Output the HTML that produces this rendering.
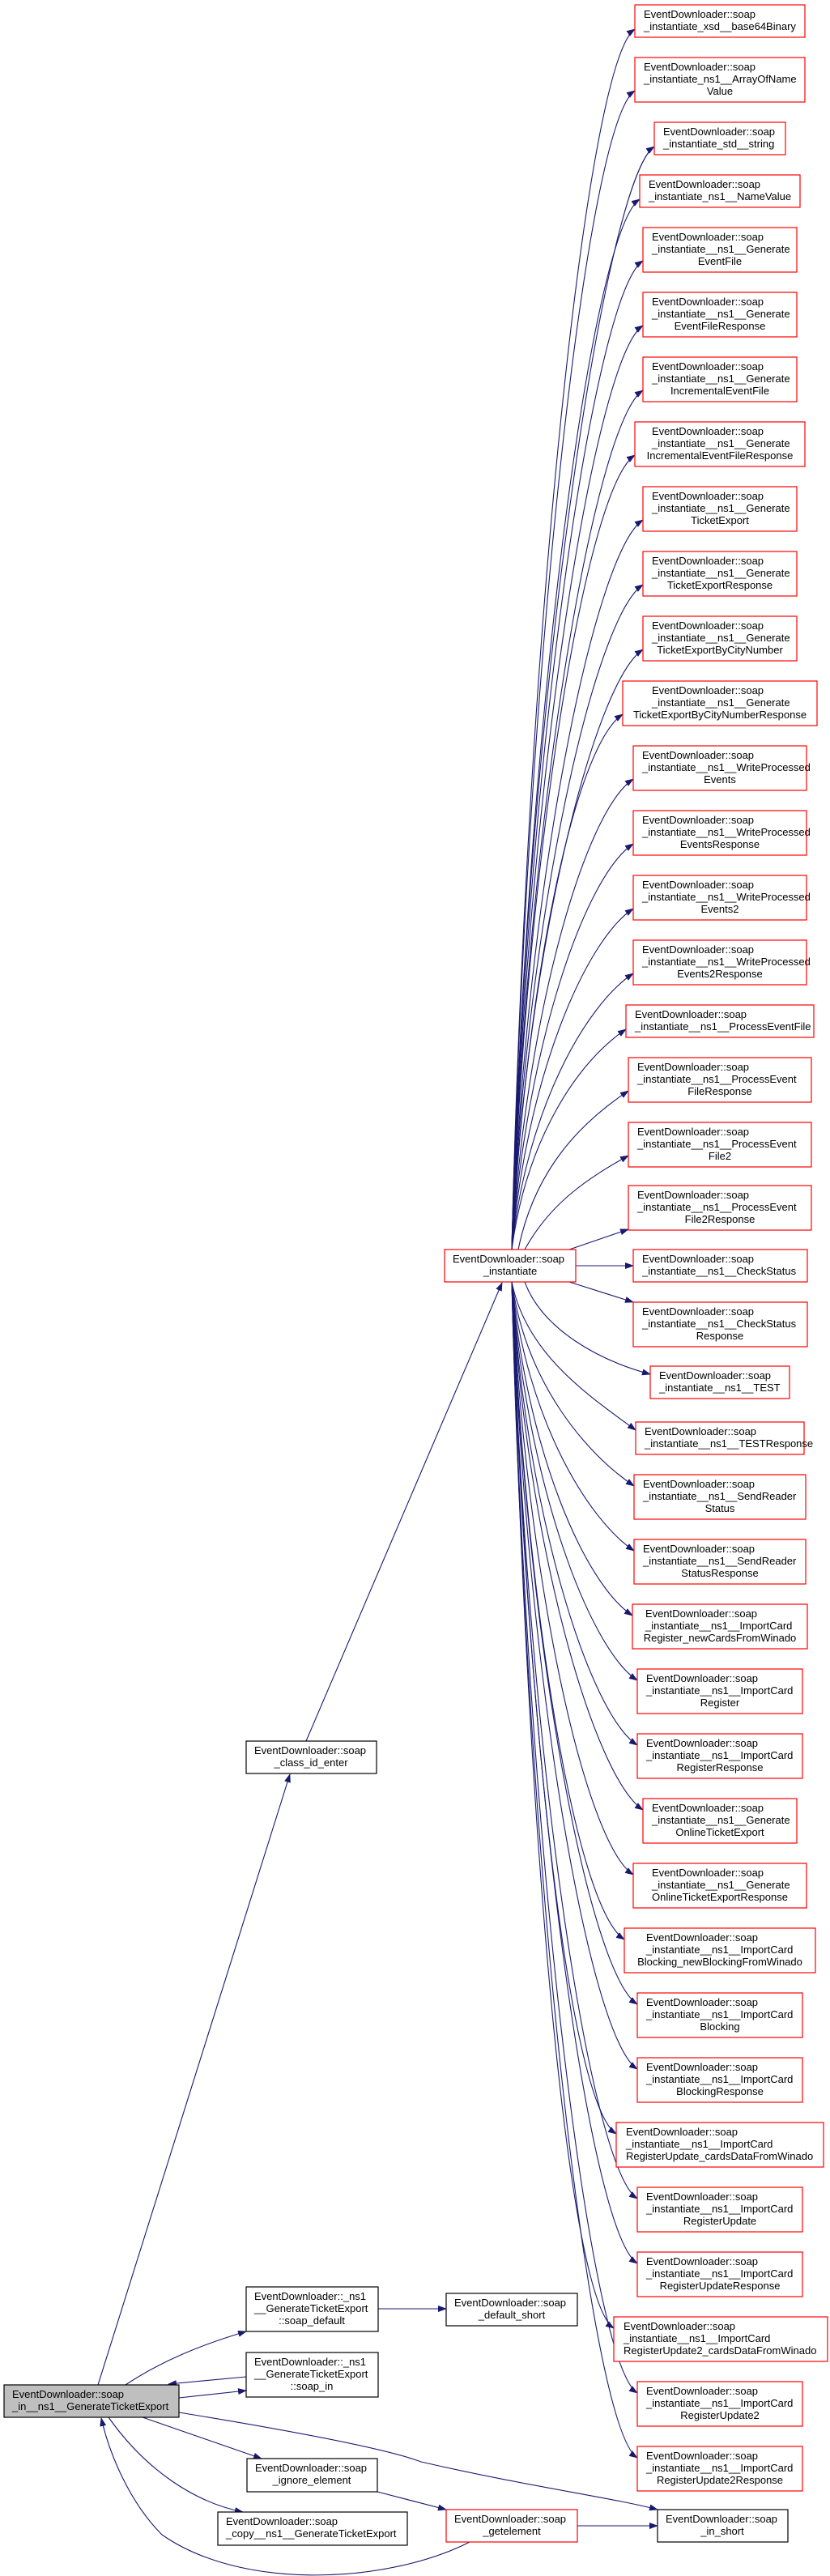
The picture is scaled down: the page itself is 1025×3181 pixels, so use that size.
<!DOCTYPE html>
<html><head><meta charset="utf-8"><style>
html,body{margin:0;padding:0;background:#fff;}
svg{display:block;}
text{font-family:"Liberation Sans",sans-serif;font-size:13px;fill:#000;}
.r{fill:#fff;stroke:#f00;stroke-width:1.2;}
.b{fill:#fff;stroke:#000;stroke-width:1.2;}
.g{fill:#bfbfbf;stroke:#000;stroke-width:1.2;}
.e{fill:none;stroke:#191970;stroke-width:1.1;}
</style></head><body>
<svg width="1025" height="3181" viewBox="0 0 1025 3181" xmlns="http://www.w3.org/2000/svg">
<defs><marker id="a" markerWidth="11" markerHeight="8" refX="10" refY="4" orient="auto" markerUnits="userSpaceOnUse"><path d="M0,0 L11,4 L0,8 z" fill="#191970"/></marker></defs>
<g class="e" marker-end="url(#a)">
<path d="M632,1543 C650,790 724,76 784,36"/>
<path d="M632,1543 C650,827 724,152 784,112"/>
<path d="M632,1543 C650,862 748,221 808,181"/>
<path d="M632,1543 C650,894 730,286 790,246"/>
<path d="M632,1543 C650,932 734,362 794,322"/>
<path d="M632,1543 C650,972 734,442 794,402"/>
<path d="M632,1543 C650,1012 734,522 794,482"/>
<path d="M632,1543 C650,1052 724,602 784,562"/>
<path d="M632,1543 C650,1092 734,682 794,642"/>
<path d="M632,1543 C650,1132 734,762 794,722"/>
<path d="M632,1543 C650,1172 734,842 794,802"/>
<path d="M632,1543 C650,1212 709,922 769,882"/>
<path d="M632,1543 C650,1252 722,1002 782,962"/>
<path d="M632,1543 C650,1292 722,1082 782,1042"/>
<path d="M632,1543 C650,1332 722,1162 782,1122"/>
<path d="M632,1543 C650,1372 722,1242 782,1202"/>
<path d="M632,1543 C650,1407 713,1311 773,1271"/>
<path d="M640,1543 C660,1445 716,1387 776,1347"/>
<path d="M648,1543 C680,1485 726,1455 776,1427"/>
<path d="M703,1543 L776,1518"/>
<path d="M711,1563 L782,1563"/>
<path d="M703,1583 L782,1608"/>
<path d="M648,1583 C670,1642 740,1680 803,1697"/>
<path d="M632,1583 C650,1674 731,1726 785,1766"/>
<path d="M632,1583 C650,1709 724,1795 783,1835"/>
<path d="M632,1583 C650,1749 724,1875 783,1915"/>
<path d="M632,1583 C650,1789 721,1955 781,1995"/>
<path d="M632,1583 C650,1829 727,2035 787,2075"/>
<path d="M632,1583 C650,1869 727,2115 787,2155"/>
<path d="M632,1583 C650,1909 734,2195 794,2235"/>
<path d="M632,1583 C650,1949 722,2275 782,2315"/>
<path d="M632,1583 C650,1989 711,2355 771,2395"/>
<path d="M632,1583 C650,2029 727,2435 787,2475"/>
<path d="M632,1583 C650,2069 727,2515 787,2555"/>
<path d="M632,1583 C650,2109 701,2595 761,2635"/>
<path d="M632,1583 C650,2149 727,2675 787,2715"/>
<path d="M632,1583 C650,2189 727,2755 787,2795"/>
<path d="M632,1583 C650,2229 698,2835 758,2875"/>
<path d="M632,1583 C650,2269 727,2915 787,2955"/>
<path d="M632,1583 C650,2309 727,2995 787,3035"/>
<path d="M121,2945 L358,2191"/>
<path d="M378,2150 L620,1584"/>
<path d="M155,2945 C200,2915 250,2895 304,2879"/>
<path d="M304,2935 L208,2944"/>
<path d="M221,2961 L304,2952"/>
<path d="M467,2851 L551,2851"/>
<path d="M221,2979 C380,3005 480,3025 520,3040 C650,3070 760,3085 812,3099"/>
<path d="M176,2985 L323,3036"/>
<path d="M134,2985 C180,3050 240,3090 300,3102"/>
<path d="M466,3077 L551,3099"/>
<path d="M713,3119 L812,3119"/>
<path d="M580,3139 C480,3190 300,3200 200,3130 C160,3090 135,3030 125,2986"/>
</g>
<g>
<rect class="r" x="784" y="6" width="210" height="40"/><text x="795" y="22">EventDownloader::soap</text><text x="795" y="37">_instantiate_xsd__base64Binary</text>
<rect class="r" x="784" y="71" width="210" height="55"/><text x="795" y="87">EventDownloader::soap</text><text x="795" y="102">_instantiate_ns1__ArrayOfName</text><text x="889" y="117" text-anchor="middle">Value</text>
<rect class="r" x="808" y="151" width="162" height="40"/><text x="819" y="167">EventDownloader::soap</text><text x="819" y="182">_instantiate_std__string</text>
<rect class="r" x="790" y="216" width="198" height="40"/><text x="801" y="232">EventDownloader::soap</text><text x="801" y="247">_instantiate_ns1__NameValue</text>
<rect class="r" x="794" y="281" width="190" height="55"/><text x="805" y="297">EventDownloader::soap</text><text x="805" y="312">_instantiate__ns1__Generate</text><text x="889" y="327" text-anchor="middle">EventFile</text>
<rect class="r" x="794" y="361" width="190" height="55"/><text x="805" y="377">EventDownloader::soap</text><text x="805" y="392">_instantiate__ns1__Generate</text><text x="889" y="407" text-anchor="middle">EventFileResponse</text>
<rect class="r" x="794" y="441" width="190" height="55"/><text x="805" y="457">EventDownloader::soap</text><text x="805" y="472">_instantiate__ns1__Generate</text><text x="889" y="487" text-anchor="middle">IncrementalEventFile</text>
<rect class="r" x="784" y="521" width="210" height="55"/><text x="805" y="537">EventDownloader::soap</text><text x="805" y="552">_instantiate__ns1__Generate</text><text x="889" y="567" text-anchor="middle">IncrementalEventFileResponse</text>
<rect class="r" x="794" y="601" width="190" height="55"/><text x="805" y="617">EventDownloader::soap</text><text x="805" y="632">_instantiate__ns1__Generate</text><text x="889" y="647" text-anchor="middle">TicketExport</text>
<rect class="r" x="794" y="681" width="190" height="55"/><text x="805" y="697">EventDownloader::soap</text><text x="805" y="712">_instantiate__ns1__Generate</text><text x="889" y="727" text-anchor="middle">TicketExportResponse</text>
<rect class="r" x="794" y="761" width="190" height="55"/><text x="805" y="777">EventDownloader::soap</text><text x="805" y="792">_instantiate__ns1__Generate</text><text x="889" y="807" text-anchor="middle">TicketExportByCityNumber</text>
<rect class="r" x="769" y="841" width="240" height="55"/><text x="805" y="857">EventDownloader::soap</text><text x="805" y="872">_instantiate__ns1__Generate</text><text x="889" y="887" text-anchor="middle">TicketExportByCityNumberResponse</text>
<rect class="r" x="782" y="921" width="214" height="55"/><text x="793" y="937">EventDownloader::soap</text><text x="793" y="952">_instantiate__ns1__WriteProcessed</text><text x="889" y="967" text-anchor="middle">Events</text>
<rect class="r" x="782" y="1001" width="214" height="55"/><text x="793" y="1017">EventDownloader::soap</text><text x="793" y="1032">_instantiate__ns1__WriteProcessed</text><text x="889" y="1047" text-anchor="middle">EventsResponse</text>
<rect class="r" x="782" y="1081" width="214" height="55"/><text x="793" y="1097">EventDownloader::soap</text><text x="793" y="1112">_instantiate__ns1__WriteProcessed</text><text x="889" y="1127" text-anchor="middle">Events2</text>
<rect class="r" x="782" y="1161" width="214" height="55"/><text x="793" y="1177">EventDownloader::soap</text><text x="793" y="1192">_instantiate__ns1__WriteProcessed</text><text x="889" y="1207" text-anchor="middle">Events2Response</text>
<rect class="r" x="773" y="1241" width="232" height="40"/><text x="784" y="1257">EventDownloader::soap</text><text x="784" y="1272">_instantiate__ns1__ProcessEventFile</text>
<rect class="r" x="776" y="1306" width="226" height="55"/><text x="787" y="1322">EventDownloader::soap</text><text x="787" y="1337">_instantiate__ns1__ProcessEvent</text><text x="889" y="1352" text-anchor="middle">FileResponse</text>
<rect class="r" x="776" y="1386" width="226" height="55"/><text x="787" y="1402">EventDownloader::soap</text><text x="787" y="1417">_instantiate__ns1__ProcessEvent</text><text x="889" y="1432" text-anchor="middle">File2</text>
<rect class="r" x="776" y="1464" width="226" height="55"/><text x="787" y="1480">EventDownloader::soap</text><text x="787" y="1495">_instantiate__ns1__ProcessEvent</text><text x="889" y="1510" text-anchor="middle">File2Response</text>
<rect class="r" x="782" y="1543" width="215" height="40"/><text x="793" y="1559">EventDownloader::soap</text><text x="793" y="1574">_instantiate__ns1__CheckStatus</text>
<rect class="r" x="782" y="1608" width="215" height="55"/><text x="793" y="1624">EventDownloader::soap</text><text x="793" y="1639">_instantiate__ns1__CheckStatus</text><text x="889" y="1654" text-anchor="middle">Response</text>
<rect class="r" x="803" y="1687" width="172" height="40"/><text x="814" y="1703">EventDownloader::soap</text><text x="814" y="1718">_instantiate__ns1__TEST</text>
<rect class="r" x="785" y="1756" width="208" height="40"/><text x="796" y="1772">EventDownloader::soap</text><text x="796" y="1787">_instantiate__ns1__TESTResponse</text>
<rect class="r" x="783" y="1821" width="212" height="55"/><text x="794" y="1837">EventDownloader::soap</text><text x="794" y="1852">_instantiate__ns1__SendReader</text><text x="889" y="1867" text-anchor="middle">Status</text>
<rect class="r" x="783" y="1901" width="212" height="55"/><text x="794" y="1917">EventDownloader::soap</text><text x="794" y="1932">_instantiate__ns1__SendReader</text><text x="889" y="1947" text-anchor="middle">StatusResponse</text>
<rect class="r" x="781" y="1981" width="216" height="55"/><text x="797" y="1997">EventDownloader::soap</text><text x="797" y="2012">_instantiate__ns1__ImportCard</text><text x="889" y="2027" text-anchor="middle">Register_newCardsFromWinado</text>
<rect class="r" x="787" y="2061" width="204" height="55"/><text x="798" y="2077">EventDownloader::soap</text><text x="798" y="2092">_instantiate__ns1__ImportCard</text><text x="889" y="2107" text-anchor="middle">Register</text>
<rect class="r" x="787" y="2141" width="204" height="55"/><text x="798" y="2157">EventDownloader::soap</text><text x="798" y="2172">_instantiate__ns1__ImportCard</text><text x="889" y="2187" text-anchor="middle">RegisterResponse</text>
<rect class="r" x="794" y="2221" width="190" height="55"/><text x="805" y="2237">EventDownloader::soap</text><text x="805" y="2252">_instantiate__ns1__Generate</text><text x="889" y="2267" text-anchor="middle">OnlineTicketExport</text>
<rect class="r" x="782" y="2301" width="214" height="55"/><text x="805" y="2317">EventDownloader::soap</text><text x="805" y="2332">_instantiate__ns1__Generate</text><text x="889" y="2347" text-anchor="middle">OnlineTicketExportResponse</text>
<rect class="r" x="771" y="2381" width="236" height="55"/><text x="798" y="2397">EventDownloader::soap</text><text x="798" y="2412">_instantiate__ns1__ImportCard</text><text x="889" y="2427" text-anchor="middle">Blocking_newBlockingFromWinado</text>
<rect class="r" x="787" y="2461" width="204" height="55"/><text x="798" y="2477">EventDownloader::soap</text><text x="798" y="2492">_instantiate__ns1__ImportCard</text><text x="889" y="2507" text-anchor="middle">Blocking</text>
<rect class="r" x="787" y="2541" width="204" height="55"/><text x="798" y="2557">EventDownloader::soap</text><text x="798" y="2572">_instantiate__ns1__ImportCard</text><text x="889" y="2587" text-anchor="middle">BlockingResponse</text>
<rect class="r" x="761" y="2621" width="256" height="55"/><text x="773" y="2637">EventDownloader::soap</text><text x="773" y="2652">_instantiate__ns1__ImportCard</text><text x="773" y="2667">RegisterUpdate_cardsDataFromWinado</text>
<rect class="r" x="787" y="2701" width="204" height="55"/><text x="798" y="2717">EventDownloader::soap</text><text x="798" y="2732">_instantiate__ns1__ImportCard</text><text x="889" y="2747" text-anchor="middle">RegisterUpdate</text>
<rect class="r" x="787" y="2781" width="204" height="55"/><text x="798" y="2797">EventDownloader::soap</text><text x="798" y="2812">_instantiate__ns1__ImportCard</text><text x="889" y="2827" text-anchor="middle">RegisterUpdateResponse</text>
<rect class="r" x="758" y="2861" width="264" height="55"/><text x="770" y="2877">EventDownloader::soap</text><text x="770" y="2892">_instantiate__ns1__ImportCard</text><text x="770" y="2907">RegisterUpdate2_cardsDataFromWinado</text>
<rect class="r" x="787" y="2941" width="204" height="55"/><text x="798" y="2957">EventDownloader::soap</text><text x="798" y="2972">_instantiate__ns1__ImportCard</text><text x="889" y="2987" text-anchor="middle">RegisterUpdate2</text>
<rect class="r" x="787" y="3021" width="204" height="55"/><text x="798" y="3037">EventDownloader::soap</text><text x="798" y="3052">_instantiate__ns1__ImportCard</text><text x="889" y="3067" text-anchor="middle">RegisterUpdate2Response</text>
</g>
<rect class="r" x="549" y="1543" width="162" height="40"/><text x="559" y="1559">EventDownloader::soap</text><text x="630" y="1574" text-anchor="middle">_instantiate</text>
<rect class="b" x="304" y="2150" width="161" height="40"/><text x="314" y="2166">EventDownloader::soap</text><text x="384" y="2181" text-anchor="middle">_class_id_enter</text>
<rect class="g" x="5" y="2945" width="216" height="40"/><text x="15" y="2961">EventDownloader::soap</text><text x="15" y="2976">_in__ns1__GenerateTicketExport</text>
<rect class="b" x="304" y="2824" width="163" height="55"/><text x="314" y="2840">EventDownloader::_ns1</text><text x="314" y="2855">__GenerateTicketExport</text><text x="385" y="2870" text-anchor="middle">::soap_default</text>
<rect class="b" x="551" y="2832" width="162" height="40"/><text x="561" y="2848">EventDownloader::soap</text><text x="632" y="2863" text-anchor="middle">_default_short</text>
<rect class="b" x="304" y="2905" width="163" height="55"/><text x="314" y="2921">EventDownloader::_ns1</text><text x="314" y="2936">__GenerateTicketExport</text><text x="385" y="2951" text-anchor="middle">::soap_in</text>
<rect class="b" x="305" y="3036" width="161" height="41"/><text x="315" y="3052">EventDownloader::soap</text><text x="385" y="3067" text-anchor="middle">_ignore_element</text>
<rect class="b" x="269" y="3102" width="234" height="41"/><text x="279" y="3118">EventDownloader::soap</text><text x="279" y="3133">_copy__ns1__GenerateTicketExport</text>
<rect class="r" x="551" y="3099" width="162" height="40"/><text x="561" y="3115">EventDownloader::soap</text><text x="632" y="3130" text-anchor="middle">_getelement</text>
<rect class="b" x="812" y="3099" width="161" height="40"/><text x="822" y="3115">EventDownloader::soap</text><text x="892" y="3130" text-anchor="middle">_in_short</text>
</svg>
</body></html>
